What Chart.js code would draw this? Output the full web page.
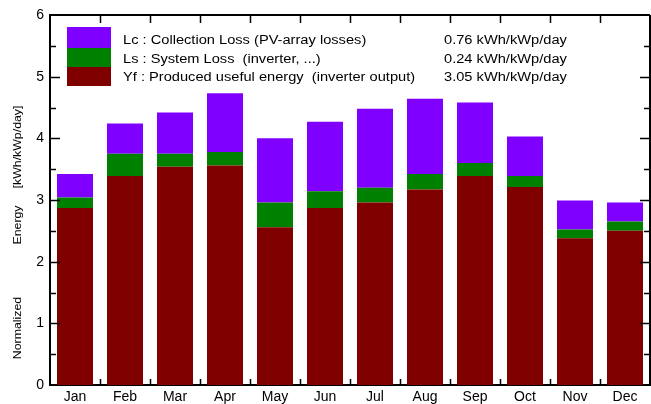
<!DOCTYPE html>
<html>
<head>
<meta charset="utf-8">
<script src="https://cdn.jsdelivr.net/npm/chart.js@4"></script>
<style>
  body { margin: 0; background: #fff; }
  canvas { display: block; }
</style>
</head>
<body>
<canvas id="myChart" width="651" height="404"></canvas>
<script>
// monthly normalized energy, kWh/kWp/day
const months = ['Jan', 'Feb', 'Mar', 'Apr', 'May', 'Jun', 'Jul', 'Aug', 'Sep', 'Oct', 'Nov', 'Dec'];
const yfValues = [2.87, 3.39, 3.54, 3.56, 2.56, 2.87, 2.96, 3.17, 3.39, 3.21, 2.38, 2.50];
const lsValues = [0.17, 0.36, 0.21, 0.22, 0.40, 0.27, 0.24, 0.25, 0.21, 0.18, 0.14, 0.15];
const lcValues = [0.38, 0.49, 0.67, 0.95, 1.04, 1.13, 1.28, 1.22, 0.98, 0.64, 0.47, 0.31];

const legendLabels = [
  'Lc : Collection Loss (PV-array losses)',
  'Ls : System Loss  (inverter, ...)',
  'Yf : Produced useful energy  (inverter output)'
];
const legendValues = ['0.76 kWh/kWp/day', '0.24 kWh/kWp/day', '3.05 kWh/kWp/day'];
const legendColors = ['#8000ff', '#008000', '#800000'];
const yTitleWords = ['Normalized', 'Energy', '[kWh/kWp/day]'];

const FONT = '"Liberation Sans", Arial, sans-serif';

// text a bit wider than the plain font, like the original
function wideText(ctx, txt, x, y, stretch) {
  ctx.save();
  ctx.translate(x, y);
  ctx.scale(stretch, 1);
  ctx.fillText(txt, 0, 0);
  ctx.restore();
}

// frame, inward ticks, legend and axis title
const decorations = {
  id: 'decorations',
  afterDraw(chart) {
    const ctx = chart.ctx;
    const a = chart.chartArea;
    const ys = chart.scales.y;
    const xs = chart.scales.x;
    ctx.save();
    ctx.strokeStyle = '#000';
    ctx.lineWidth = 2;
    ctx.beginPath();
    ctx.moveTo(a.left, a.top); ctx.lineTo(a.right, a.top);
    ctx.moveTo(a.right, a.top); ctx.lineTo(a.right, a.bottom);
    ctx.stroke();

    // y ticks on both sides
    ctx.lineWidth = 1.5;
    ctx.beginPath();
    for (let v = 0.5; v < 6; v += 0.5) {
      const y = Math.round(ys.getPixelForValue(v)) + 0.5;
      const len = Number.isInteger(v) ? 10 : 6;
      ctx.moveTo(a.left, y); ctx.lineTo(a.left + len, y);
      ctx.moveTo(a.right, y); ctx.lineTo(a.right - len, y);
    }
    // x ticks between months, top and bottom
    const w = (xs.right - xs.left) / months.length;
    for (let k = 1; k < months.length; k++) {
      const x = Math.round(xs.left + k * w) + 0.5;
      ctx.moveTo(x, a.top); ctx.lineTo(x, a.top + 8);
      ctx.moveTo(x, a.bottom); ctx.lineTo(x, a.bottom - 6);
    }
    ctx.stroke();

    // legend
    const boxTops = [27, 48, 67, 86];
    ctx.font = '12px ' + FONT;
    ctx.textBaseline = 'middle';
    ctx.textAlign = 'left';
    legendLabels.forEach((lab, i) => {
      ctx.fillStyle = legendColors[i];
      ctx.fillRect(67, boxTops[i], 44, boxTops[i + 1] - boxTops[i]);
      ctx.fillStyle = '#000';
      const ty = 41 + i * 18.5;
      wideText(ctx, lab, 123, ty, 1.22);
      wideText(ctx, legendValues[i], 444, ty, 1.22);
    });

    // y axis title, three separate words
    const centers = [328, 225, 147];
    ctx.font = '11px ' + FONT;
    ctx.textAlign = 'center';
    yTitleWords.forEach((word, i) => {
      ctx.save();
      ctx.translate(18, centers[i]);
      ctx.rotate(-Math.PI / 2);
      wideText(ctx, word, 0, 0, 1.12);
      ctx.restore();
    });
    ctx.restore();
  }
};

const ctx = document.getElementById('myChart').getContext('2d');
const chart = new Chart(ctx, {
  type: 'bar',
  data: {
    labels: months,
    datasets: [
      { label: 'Yf', data: yfValues, backgroundColor: '#800000' },
      { label: 'Ls', data: lsValues, backgroundColor: '#008000' },
      { label: 'Lc', data: lcValues, backgroundColor: '#8000ff' }
    ]
  },
  options: {
    responsive: false,
    animation: false,
    layout: { padding: { top: 15, right: 1, left: 0, bottom: 0 } },
    datasets: { bar: { categoryPercentage: 1, barPercentage: 0.72 } },
    plugins: { legend: { display: false }, tooltip: { enabled: false } },
    scales: {
      x: {
        stacked: true,
        grid: { display: false, drawTicks: false, tickLength: 0 },
        border: { color: '#000', width: 2 },
        ticks: { color: '#000', font: { family: FONT, size: 14 }, padding: 4 },
        afterFit: s => { s.height = 19; }
      },
      y: {
        stacked: true,
        min: 0,
        max: 6,
        grid: { display: false, drawTicks: false, tickLength: 0 },
        border: { color: '#000', width: 2 },
        ticks: {
          stepSize: 0.5,
          color: '#000',
          font: { family: FONT, size: 14 },
          padding: 6,
          autoSkip: false,
          callback: v => Number.isInteger(v) ? v : ''
        },
        afterFit: s => { s.width = 50; }
      }
    }
  },
  plugins: [decorations]
});
</script>
</body>
</html>
